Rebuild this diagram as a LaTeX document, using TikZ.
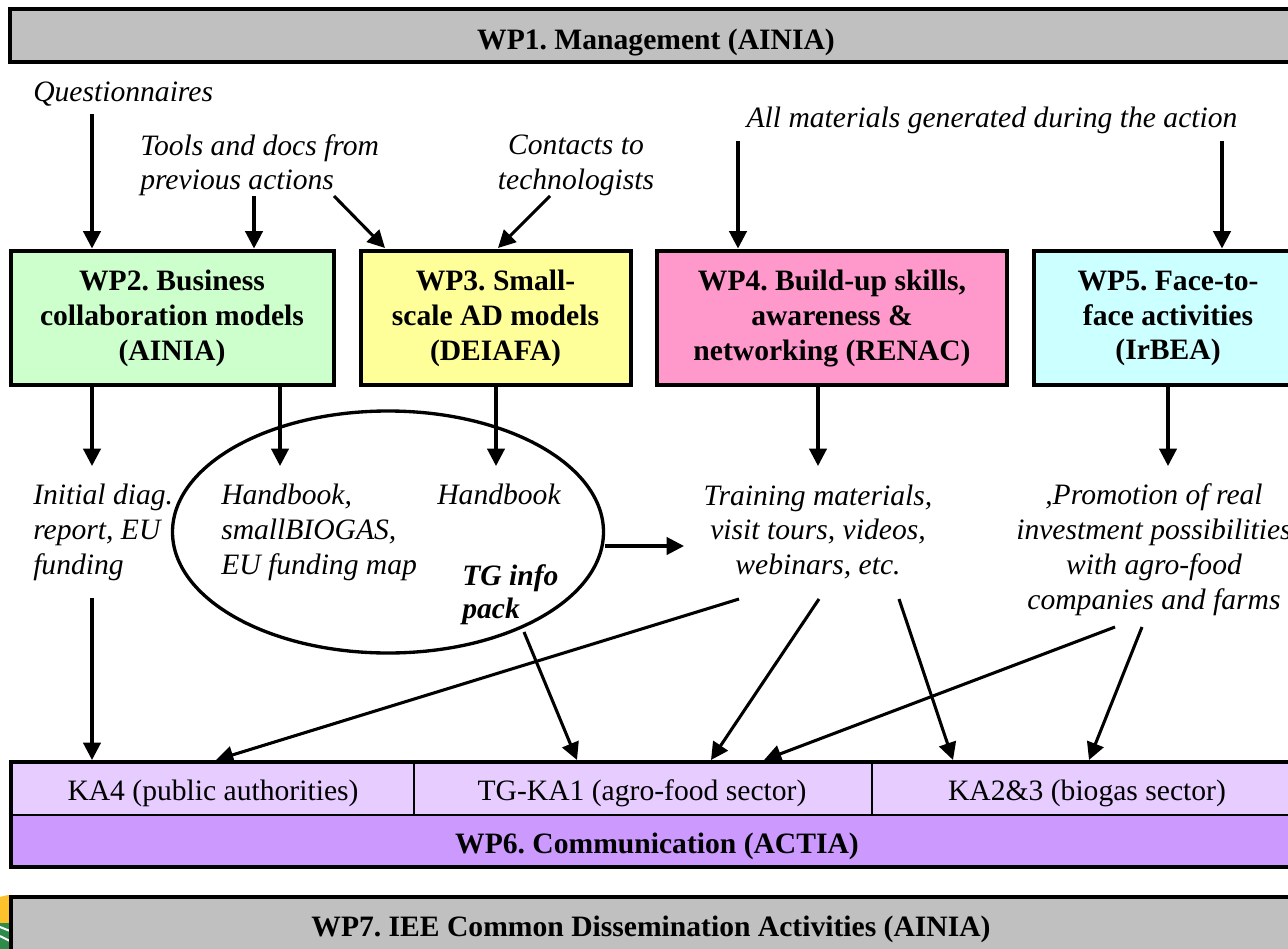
\documentclass[tikz,border=0pt]{standalone}
\usepackage{fontspec}
\setmainfont{Liberation Serif}
\frenchspacing
\usetikzlibrary{arrows.meta,shapes.geometric}
\definecolor{gbox}{HTML}{C0C0C0}
\definecolor{green2}{HTML}{CCFFCC}
\definecolor{yellow3}{HTML}{FFFF99}
\definecolor{pink4}{HTML}{FF99CC}
\definecolor{cyan5}{HTML}{CCFFFF}
\definecolor{lilac}{HTML}{E6CCFF}
\definecolor{purple6}{HTML}{CC99FF}
\definecolor{logoy}{HTML}{FDC22B}
\definecolor{logog}{HTML}{2E8B4A}
\tikzset{
  x=0.75pt,y=-0.75pt,
  wh/.style 2 args={minimum width=#1*0.75pt,minimum height=#2*0.75pt},
  wpbox/.style={draw=black,line width=3pt,inner sep=0pt,align=center,font=\fontsize{22.2}{26}\selectfont\bfseries},
  barbox/.style={draw=black,line width=3pt,inner sep=0pt},
  kabox/.style={draw=black,line width=1.5pt,inner sep=0pt,fill=lilac},
  lbl/.style={inner sep=0pt,align=center,font=\fontsize{22.2}{26.2}\selectfont\itshape},
  boldlbl/.style={inner sep=0pt,align=left,font=\fontsize{22.2}{25}\selectfont\bfseries\itshape},
  arr/.style={line width=2.3pt,-{Triangle[length=13pt,width=13pt]}},
}
\begin{document}
\begin{tikzpicture}
\path[use as bounding box,clip] (0,0) rectangle (1288,949);
% logo fragment
\fill[logoy] (0,927) -- (0,897) .. controls (3,896) and (7,895) .. (10,895) -- (10,927) -- cycle;
\fill[logog] (0,923) rectangle (10,949);
\draw[white,line width=1.5pt] (0,927) -- (10,931) (0,936) -- (10,941);
% management bars
\path[barbox,fill=gbox] (10,9) rectangle (1300,62);
\node[font=\fontsize{22.2}{24}\selectfont\bfseries] (wp1) at (656,42) {WP1. Management (AINIA)};
\path[barbox,fill=gbox] (11,897) rectangle (1300,960);
\node[font=\fontsize{22.2}{24}\selectfont\bfseries] (wp7) at (651,929) {WP7. IEE Common Dissemination Activities (AINIA)};
% WP boxes
\node[wpbox,fill=green2,wh={323}{134}] (wp2) at (172,317.5) {};
\node[wpbox,fill=yellow3,wh={270}{134}] (wp3) at (495.5,317.5) {};
\node[wpbox,fill=pink4,wh={350}{134}] (wp4) at (832,317.5) {};
\node[wpbox,fill=cyan5,wh={266}{134}] (wp5) at (1167,317.5) {};
\node[wpbox,draw=none] (wp2t) at (172,318.5) {WP2. Business\\collaboration models\\(AINIA)};
\node[wpbox,draw=none] (wp3t) at (495.5,318.5) {WP3. Small-\\scale AD models\\(DEIAFA)};
\node[wpbox,draw=none] (wp4t) at (832,318.5) {WP4. Build-up skills,\\awareness \&\\networking (RENAC)};
\node[wpbox,draw=none] (wp5t) at (1168,318.5) {WP5. Face-to-\\face activities\\(IrBEA)};
% KA row and WP6
\path[barbox,fill=purple6] (11,762) rectangle (1300,867);
\node[kabox,wh={403}{54}] (ka4) at (213,788) {};
\node[kabox,wh={458}{54}] (ka1) at (643,788) {};
\node[kabox,wh={430}{54}] (ka2) at (1087,788) {};
\draw[line width=3pt] (10,762) -- (1300,762);
\node[font=\fontsize{22.2}{24}\selectfont] (ka4t) at (213,793) {KA4 (public authorities)};
\node[font=\fontsize{22.2}{24}\selectfont] (ka1t) at (642,793) {TG-KA1 (agro-food sector)};
\node[font=\fontsize{22.2}{24}\selectfont] (ka2t) at (1087,793) {KA2\&3 (biogas sector)};
\node[font=\fontsize{22.2}{24}\selectfont\bfseries] (wp6) at (657,846) {WP6. Communication (ACTIA)};
% ellipse
\node[draw=black,line width=2.5pt,ellipse,inner sep=0pt,wh={431}{242}] (ell) at (388,532) {};
% labels
\node[lbl,anchor=west] (q) at (33,94) {Questionnaires};
\node[lbl,anchor=west] (tools) at (140,148) {Tools and docs from};
\node[lbl,anchor=west] (prev) at (140,183) {previous actions};
\node[lbl] (cont) at (576,165.5) {Contacts to\\technologists};
\node[lbl] (all) at (992,120.5) {All materials generated during the action};
\node[lbl,align=left,anchor=west] (l1) at (33,532) {Initial diag.\\report, EU\\funding};
\node[lbl,align=left,anchor=west] (l2) at (221,532) {Handbook,\\smallBIOGAS,\\EU funding map};
\node[lbl] (l3) at (499,494) {Handbook};
\node[boldlbl,anchor=west] (tg) at (462,595) {TG info\\pack};
\node[lbl] (l4) at (818,532) {Training materials,\\visit tours, videos,\\webinars, etc.};
\node[lbl] (l5) at (1154,549.5) {,Promotion of real\\investment possibilities\\with agro-food\\companies and farms};
% free-end coordinates
\coordinate (s1) at (92,114);
\coordinate (s2) at (254,196);
\coordinate (s3) at (334,196);
\coordinate (e3) at (385,248);
\coordinate (s4) at (550,196);
\coordinate (e4) at (498,248);
\coordinate (s5) at (738,141);
\coordinate (s6) at (1222,141);
\coordinate (d2) at (92,385);
\coordinate (d2b) at (280,385);
\coordinate (d3) at (496,385);
\coordinate (d4) at (818,385);
\coordinate (d5) at (1168,385);
\coordinate (e2a) at (92,466);
\coordinate (e2b) at (280,466);
\coordinate (e3b) at (496,466);
\coordinate (e4b) at (818,466);
\coordinate (e5b) at (1168,466);
\coordinate (s7) at (92,598);
\coordinate (f2) at (684,546);
\coordinate (a1) at (739,599);
\coordinate (a1e) at (216,760);
\coordinate (a2) at (524,632);
\coordinate (a2e) at (577,760);
\coordinate (a3) at (819,599);
\coordinate (a3e) at (711,760);
\coordinate (a4) at (899,599);
\coordinate (a4e) at (953,760);
\coordinate (a5) at (1115,627);
\coordinate (a5e) at (764,760);
\coordinate (a6) at (1142,627);
\coordinate (a6e) at (1089,760);
% connectors
\draw[arr] (s1) -- (s1 |- wp2.north);
\draw[arr] (s2) -- (s2 |- wp2.north);
\draw[arr] (s3) -- (e3);
\draw[arr] (s4) -- (e4);
\draw[arr] (s5) -- (s5 |- wp4.north);
\draw[arr] (s6) -- (s6 |- wp5.north);
\draw[arr] (d2) -- (e2a);
\draw[arr] (d2b) -- (e2b);
\draw[arr] (d3) -- (e3b);
\draw[arr] (d4) -- (e4b);
\draw[arr] (d5) -- (e5b);
\draw[arr] (s7) -- (s7 |- ka4.north);
\draw[arr] (ell.east |- f2) -- (f2);
\draw[arr] (a1) -- (a1e);
\draw[arr] (a2) -- (a2e);
\draw[arr] (a3) -- (a3e);
\draw[arr] (a4) -- (a4e);
\draw[arr] (a5) -- (a5e);
\draw[arr] (a6) -- (a6e);
\end{tikzpicture}
\end{document}
